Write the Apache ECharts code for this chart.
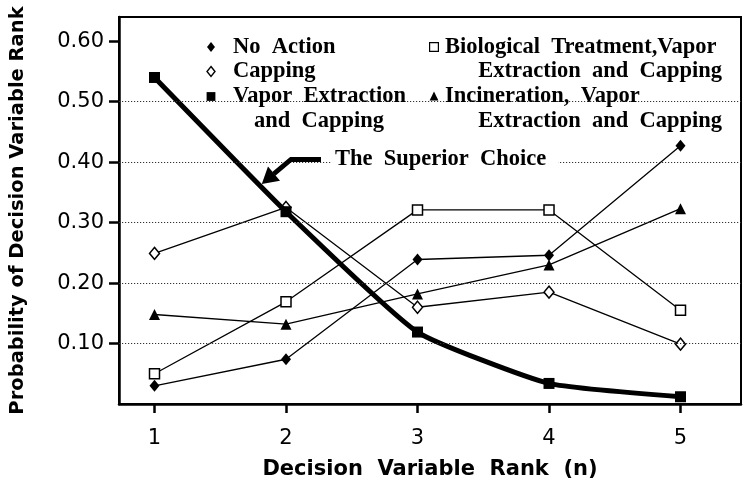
<!DOCTYPE html>
<html><head><meta charset="utf-8">
<script src="https://cdn.jsdelivr.net/npm/echarts@6/dist/echarts.min.js"></script>
<style>html,body{margin:0;padding:0;background:#fff}#c{width:744px;height:486px}</style>
</head><body><div id="c"></div>
<script>
// ---- data ----
const ranks = [1, 2, 3, 4, 5];
const yTickValues = [0.1, 0.2, 0.3, 0.4, 0.5, 0.6];
const gridValues = [0.1, 0.2, 0.3, 0.4, 0.5];
const seriesNames = ['No Action', 'Capping', 'Biological Treatment,Vapor Extraction and Capping',
  'Incineration, Vapor Extraction and Capping', 'Vapor Extraction and Capping'];
const noAction = [0.030, 0.074, 0.239, 0.246, 0.427];
const capping = [0.249, 0.325, 0.160, 0.185, 0.099];
const biological = [0.050, 0.169, 0.321, 0.321, 0.155];
const incineration = [0.148, 0.132, 0.182, 0.230, 0.323];
const vaporExtraction = [0.540, 0.318, 0.119, 0.034, 0.012];
const xTitle = 'Decision  Variable  Rank  (n)';
const yTitle = 'Probability of Decision Variable Rank';
const annotationText = 'The  Superior  Choice';
const legendLines = {
  'No Action': ['No  Action'],
  'Capping': ['Capping'],
  'Vapor Extraction and Capping': ['Vapor  Extraction', 'and  Capping'],
  'Biological Treatment,Vapor Extraction and Capping': ['Biological  Treatment,Vapor', 'Extraction  and  Capping'],
  'Incineration, Vapor Extraction and Capping': ['Incineration,  Vapor', 'Extraction  and  Capping']
};

const chart = echarts.init(document.getElementById('c'), null, {renderer: 'canvas'});

const pair = arr => arr.map((v, i) => [ranks[i], v]);
const thin = {color: '#000', width: 1.3};

const serifFont = '"Liberation Serif", "Times New Roman", serif';
const sansFont = '"DejaVu Sans", Verdana, sans-serif';

function symbolEl(kind, cx, cy) {
  const s = 4.4;
  if (kind === 'diamond' || kind === 'emptyDiamond') {
    return {type: 'polygon', z: 10, shape: {points: [[cx, cy - s - 0.6], [cx + s - 0.4, cy], [cx, cy + s + 0.6], [cx - s + 0.4, cy]]},
      style: kind === 'diamond' ? {fill: '#000'} : {fill: '#fff', stroke: '#000', lineWidth: 1.4}};
  }
  if (kind === 'rect' || kind === 'emptyRect') {
    return {type: 'rect', z: 10, shape: {x: cx - s, y: cy - s, width: 2 * s, height: 2 * s},
      style: kind === 'rect' ? {fill: '#000'} : {fill: '#fff', stroke: '#000', lineWidth: 1.2}};
  }
  return {type: 'polygon', z: 10, shape: {points: [[cx, cy - s - 0.5], [cx + s, cy + s - 0.5], [cx - s, cy + s - 0.5]]}, style: {fill: '#000'}};
}

function textEl(str, x, y, align) {
  return {type: 'text', z: 10, x: x, y: y,
    style: {text: str, font: 'bold 22.5px ' + serifFont, fill: '#000', align: align || 'left', verticalAlign: 'middle'}};
}

const legendLayout = [
  {name: 'No Action', sym: 'diamond', sx: 211, tx: 233, y: 47},
  {name: 'Capping', sym: 'emptyDiamond', sx: 211, tx: 233, y: 71.5},
  {name: 'Vapor Extraction and Capping', sym: 'rect', sx: 211, tx: 233, y: 96.5, l2x: 319, l2a: 'center'},
  {name: 'Biological Treatment,Vapor Extraction and Capping', sym: 'emptyRect', sx: 434, tx: 445, y: 47, l2x: 722, l2a: 'right'},
  {name: 'Incineration, Vapor Extraction and Capping', sym: 'triangle', sx: 434, tx: 445, y: 96.5, l2x: 722, l2a: 'right'}
];

const graphics = [
  {type: 'rect', z: 2, shape: {x: 190, y: 33, width: 548, height: 98}, style: {fill: '#fff'}}
];
legendLayout.forEach(it => {
  const lines = legendLines[it.name];
  graphics.push(symbolEl(it.sym, it.sx, it.y));
  graphics.push(textEl(lines[0], it.tx, it.y));
  if (lines[1]) graphics.push(textEl(lines[1], it.l2x, it.y + 24.5, it.l2a));
});
// annotation
graphics.push({type: 'text', z: 6, x: 331, y: 159.5,
  style: {text: annotationText, font: 'bold 22.5px ' + serifFont, fill: '#000', verticalAlign: 'middle',
    backgroundColor: '#fff', padding: [0, 12, 0, 4]}});
graphics.push({type: 'polyline', z: 7, shape: {points: [[321, 159.5], [291, 159.5], [273.8, 173.9]]},
  style: {stroke: '#000', lineWidth: 4.8, fill: null, lineJoin: 'miter'}});
graphics.push({type: 'polygon', z: 7, shape: {points: [[261.8, 184], [280, 180.8], [268, 166.5]]},
  style: {fill: '#000'}});

const option = {
  animation: false,
  backgroundColor: '#fff',
  grid: {left: 115, right: 3, top: 17, bottom: 82, show: true, borderColor: '#000', borderWidth: 2, backgroundColor: 'transparent'},
  xAxis: {
    type: 'value', min: 0.73, max: 5.46,
    axisLine: {show: true, lineStyle: {color: '#000', width: 2.5}},
    axisTick: {show: true, customValues: ranks, length: 9, lineStyle: {color: '#000', width: 2.5}},
    axisLabel: {customValues: ranks, margin: 24, color: '#000', fontSize: 21, fontFamily: sansFont,
      formatter: v => String(v)},
    splitLine: {show: false},
    name: xTitle, nameLocation: 'middle', nameGap: 55,
    nameTextStyle: {color: '#000', fontSize: 21, fontWeight: 'bold', fontFamily: sansFont}
  },
  yAxis: {
    type: 'value', min: 0, max: 0.64,
    axisLine: {show: true, lineStyle: {color: '#000', width: 2.5}},
    axisTick: {show: true, customValues: yTickValues, length: 10, lineStyle: {color: '#000', width: 2.5}},
    axisLabel: {customValues: yTickValues, margin: 15, color: '#000', fontSize: 21, fontFamily: sansFont,
      formatter: v => v.toFixed(2)},
    splitLine: {show: false},
    name: yTitle, nameLocation: 'middle', nameGap: 91,
    nameTextStyle: {color: '#000', fontSize: 19.5, fontWeight: 'bold', fontFamily: sansFont}
  },
  graphic: {elements: graphics},
  series: [
    {type: 'line', name: 'grid', data: [], silent: true, z: 1,
      markLine: {silent: true, symbol: 'none', animation: false, label: {show: false},
        lineStyle: {color: '#333', type: [1.2, 1.8], width: 1},
        data: gridValues.map(v => ({yAxis: v}))}},
    {type: 'line', name: seriesNames[0], data: pair(noAction), z: 3, symbol: 'diamond', symbolSize: [10, 12],
      lineStyle: thin, itemStyle: {color: '#000'}},
    {type: 'line', name: seriesNames[1], data: pair(capping), z: 3, symbol: 'diamond', symbolSize: [10, 12],
      lineStyle: thin, itemStyle: {color: '#fff', borderColor: '#000', borderWidth: 1.5}},
    {type: 'line', name: seriesNames[2], data: pair(biological), z: 3, symbol: 'rect', symbolSize: 10,
      lineStyle: thin, itemStyle: {color: '#fff', borderColor: '#000', borderWidth: 1.5}},
    {type: 'line', name: seriesNames[3], data: pair(incineration), z: 3, symbol: 'triangle', symbolSize: 11,
      lineStyle: thin, itemStyle: {color: '#000'}},
    {type: 'line', name: seriesNames[4], data: pair(vaporExtraction), z: 4, symbol: 'rect', symbolSize: 11,
      smooth: 0.15, lineStyle: {color: '#000', width: 5}, itemStyle: {color: '#000'}}
  ]
};
chart.setOption(option);
</script>
</body></html>
